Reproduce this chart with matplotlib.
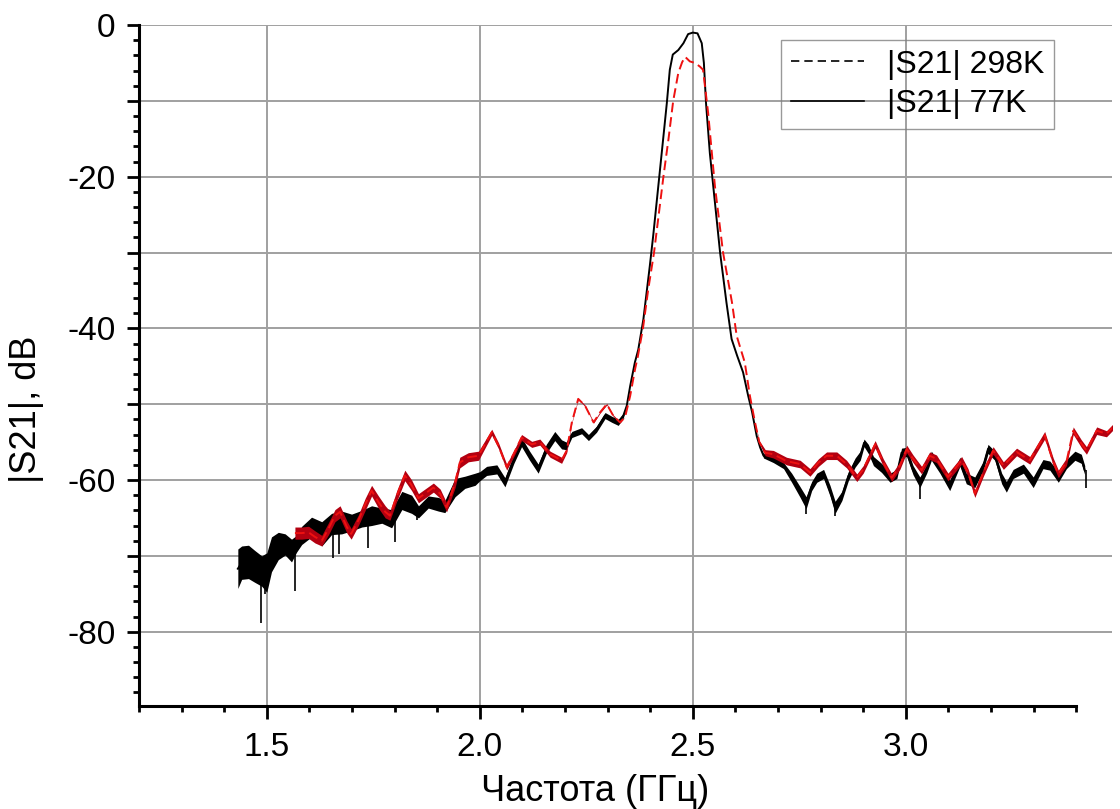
import numpy as np
import matplotlib
matplotlib.use("Agg")
import matplotlib.pyplot as plt
from matplotlib.ticker import FixedLocator, MultipleLocator, FuncFormatter
from matplotlib.lines import Line2D

plt.rcParams['font.family'] = ['Liberation Sans', 'DejaVu Sans']

# --- |S21| at 77 K: frequency (GHz), level (dB), noise half-width (dB) ---
f_77 = [1.432, 1.441, 1.457, 1.472, 1.488, 1.500, 1.511, 1.527, 1.543, 1.558,
        1.570, 1.582, 1.605, 1.629, 1.652, 1.676, 1.699, 1.723, 1.746, 1.770,
        1.793, 1.817, 1.840, 1.856, 1.879, 1.903, 1.918, 1.942, 1.965, 1.989,
        2.000, 2.016, 2.040, 2.059, 2.080, 2.098, 2.117, 2.137, 2.156, 2.176,
        2.192, 2.203, 2.216, 2.239, 2.255, 2.274, 2.294, 2.310, 2.325, 2.337,
        2.345, 2.353, 2.364, 2.372, 2.384, 2.399, 2.407, 2.419, 2.431, 2.439,
        2.446, 2.453, 2.466, 2.478, 2.489, 2.500, 2.511, 2.521, 2.526, 2.531,
        2.540, 2.552, 2.564, 2.579, 2.591, 2.604, 2.618, 2.630, 2.639, 2.650,
        2.658, 2.666, 2.689, 2.713, 2.732, 2.752, 2.766, 2.779, 2.791, 2.807,
        2.822, 2.834, 2.850, 2.865, 2.881, 2.893, 2.902, 2.912, 2.924, 2.943,
        2.963, 2.979, 2.990, 3.002, 3.017, 3.033, 3.049, 3.060, 3.080, 3.103,
        3.127, 3.142, 3.162, 3.182, 3.193, 3.209, 3.225, 3.236, 3.252, 3.276,
        3.299, 3.322, 3.338, 3.358, 3.377, 3.397, 3.412, 3.420]
s21_77 = [-71.7, -70.9, -70.8, -71.4, -72.0, -72.2, -69.8, -68.7, -68.5, -69.3,
          -68.4, -67.3, -66.2, -67.1, -65.8, -65.6, -65.6, -65.1, -64.7, -64.7,
          -65.1, -62.7, -63.2, -64.2, -62.9, -63.2, -63.5, -61.0, -60.3, -59.9,
          -59.5, -58.8, -58.6, -60.3, -57.2, -55.0, -56.8, -58.5, -55.9, -54.2,
          -55.3, -55.5, -54.0, -53.5, -54.4, -53.3, -51.5, -52.0, -52.4, -51.5,
          -50.2, -47.6, -44.5, -42.8, -38.8, -31.8, -27.8, -21.3, -14.7, -10.3,
          -5.9, -3.9, -3.3, -2.4, -1.2, -1.0, -1.1, -2.4, -5.0, -10.3,
          -16.9, -23.5, -30.0, -36.6, -41.4, -43.6, -45.8, -48.9, -51.0, -54.2,
          -55.7, -56.8, -57.3, -58.1, -59.7, -61.6, -63.0, -60.8, -59.7, -59.2,
          -61.4, -63.6, -62.1, -59.5, -57.7, -56.8, -55.1, -55.9, -57.5, -58.4,
          -59.7, -59.2, -56.4, -56.3, -58.7, -60.3, -58.5, -56.8, -58.5, -60.7,
          -57.6, -59.8, -60.3, -58.1, -55.9, -56.8, -59.8, -60.9, -59.2, -58.5,
          -60.3, -57.9, -58.1, -59.6, -57.9, -56.8, -57.2, -58.7]
noise_77 = [2.6, 2.2, 2.2, 2.1, 2.0, 2.6, 2.3, 1.8, 1.4, 1.5,
            1.1, 1.2, 1.3, 1.6, 1.4, 1.5, 1.1, 1.1, 1.3, 1.0,
            1.2, 1.2, 1.2, 0.8, 0.8, 0.9, 0.8, 1.2, 0.8, 0.8,
            0.6, 0.6, 0.6, 0.6, 0.6, 0.6, 0.6, 0.6, 0.6, 0.6,
            0.6, 0.5, 0.4, 0.4, 0.4, 0.4, 0.4, 0.4, 0.4, 0.3,
            0.0, 0.0, 0.0, 0.0, 0.0, 0.0, 0.0, 0.0, 0.0, 0.0,
            0.0, 0.0, 0.0, 0.0, 0.0, 0.0, 0.0, 0.0, 0.0, 0.0,
            0.0, 0.0, 0.0, 0.0, 0.0, 0.0, 0.0, 0.0, 0.0, 0.0,
            0.1, 0.3, 0.4, 0.4, 0.6, 0.7, 0.8, 0.6, 0.6, 0.6,
            0.7, 0.8, 0.6, 0.6, 0.6, 0.6, 0.5, 0.6, 0.6, 0.6,
            0.6, 0.6, 0.6, 0.6, 0.6, 0.7, 0.6, 0.6, 0.6, 0.7,
            0.6, 0.7, 0.7, 0.6, 0.6, 0.6, 0.7, 0.7, 0.6, 0.6,
            0.7, 0.6, 0.6, 0.7, 0.6, 0.6, 0.6, 0.6]
# isolated downward spikes of the 77 K trace
spike_f_77 = [1.486, 1.496, 1.566, 1.656, 1.670, 1.738, 1.801, 1.852,
              2.766, 2.834, 3.033, 3.424]
spike_lo_77 = [-78.9, -75.0, -74.6, -70.3, -69.7, -68.9, -68.2, -65.3,
               -64.5, -64.7, -62.5, -61.1]

# --- |S21| at 298 K ---
f_298 = [1.566, 1.582, 1.598, 1.613, 1.629, 1.645, 1.660, 1.672, 1.688, 1.698,
         1.715, 1.731, 1.746, 1.762, 1.778, 1.789, 1.805, 1.824, 1.840, 1.856,
         1.871, 1.891, 1.907, 1.922, 1.942, 1.953, 1.973, 1.997, 2.028, 2.044,
         2.063, 2.079, 2.098, 2.122, 2.141, 2.165, 2.192, 2.204, 2.216, 2.231,
         2.247, 2.267, 2.282, 2.298, 2.313, 2.329, 2.341, 2.353, 2.364, 2.371,
         2.383, 2.395, 2.409, 2.420, 2.431, 2.443, 2.454, 2.466, 2.475, 2.482,
         2.493, 2.505, 2.517, 2.524, 2.536, 2.552, 2.571, 2.592, 2.603, 2.622,
         2.634, 2.646, 2.656, 2.670, 2.689, 2.720, 2.752, 2.775, 2.795, 2.814,
         2.838, 2.861, 2.885, 2.900, 2.928, 2.947, 2.967, 2.986, 3.002, 3.017,
         3.037, 3.056, 3.072, 3.099, 3.131, 3.146, 3.162, 3.182, 3.205, 3.229,
         3.260, 3.291, 3.326, 3.346, 3.358, 3.377, 3.393, 3.412, 3.424, 3.448,
         3.471, 3.490]
s21_298 = [-67.0, -67.0, -66.9, -67.5, -68.0, -66.4, -64.7, -64.2, -66.2, -67.1,
           -65.3, -63.2, -61.4, -62.9, -64.2, -64.7, -62.1, -59.4, -60.7, -62.4,
           -61.8, -61.0, -61.8, -63.6, -60.3, -57.7, -57.0, -56.8, -53.7, -55.5,
           -58.3, -56.6, -54.4, -55.3, -55.0, -56.6, -57.4, -56.1, -52.4, -49.3,
           -50.2, -52.4, -51.1, -50.0, -51.5, -52.4, -51.7, -48.9, -45.5, -43.7,
           -40.0, -35.0, -30.0, -25.0, -20.0, -15.0, -10.0, -6.3, -4.9, -4.2,
           -4.8, -5.0, -5.5, -5.9, -11.6, -21.3, -30.0, -36.6, -41.0, -44.5,
           -48.9, -52.4, -55.0, -56.4, -56.6, -57.5, -57.9, -59.0, -57.7, -56.8,
           -56.8, -57.9, -59.7, -58.6, -55.3, -57.7, -59.7, -58.1, -55.9, -57.2,
           -58.7, -56.8, -57.2, -59.6, -57.4, -59.0, -61.8, -59.0, -56.1, -58.1,
           -56.3, -57.4, -54.1, -57.6, -59.2, -57.6, -53.5, -55.2, -56.1, -53.5,
           -53.9, -52.8]
noise_298 = [0.8, 0.8, 0.8, 0.8, 0.7, 0.8, 0.8, 0.8, 0.8, 0.7,
             0.7, 0.8, 0.7, 0.8, 0.8, 0.6, 0.7, 0.7, 0.7, 0.6,
             0.6, 0.6, 0.6, 0.6, 0.7, 0.7, 0.6, 0.6, 0.4, 0.4,
             0.4, 0.4, 0.4, 0.4, 0.4, 0.4, 0.4, 0.3, 0.1, 0.1,
             0.1, 0.1, 0.1, 0.1, 0.1, 0.1, 0.0, 0.0, 0.0, 0.0,
             0.0, 0.0, 0.0, 0.0, 0.0, 0.0, 0.0, 0.0, 0.0, 0.0,
             0.0, 0.0, 0.0, 0.0, 0.0, 0.0, 0.0, 0.0, 0.0, 0.0,
             0.0, 0.0, 0.2, 0.4, 0.5, 0.5, 0.5, 0.5, 0.5, 0.5,
             0.5, 0.5, 0.5, 0.5, 0.5, 0.5, 0.5, 0.5, 0.5, 0.5,
             0.5, 0.5, 0.5, 0.5, 0.5, 0.5, 0.5, 0.5, 0.5, 0.5,
             0.5, 0.5, 0.5, 0.5, 0.5, 0.5, 0.5, 0.5, 0.5, 0.5,
             0.4, 0.4]

legend_labels = ["|S21| 298K", "|S21| 77K"]

f77, v77, n77 = np.array(f_77), np.array(s21_77), np.array(noise_77)
f298, v298, n298 = np.array(f_298), np.array(s21_298), np.array(noise_298)

fig = plt.figure(figsize=(11.2, 8.09), dpi=100)
ax = fig.add_axes([139 / 1120, 103 / 809, 973 / 1120, 681 / 809])

# 77 K trace: noise band, spikes and centre line
ax.fill_between(f77, v77 - n77, v77 + n77, color='black', lw=0, zorder=2)
top = np.interp(spike_f_77, f77, v77)
ax.vlines(spike_f_77, spike_lo_77, top, color='black', lw=1.2, zorder=2)
ax.plot(f77, v77, color='black', lw=1.4, zorder=2.1)

# 298 K trace on top
ax.fill_between(f298, v298 - n298, v298 + n298, color='#b30010', lw=0, zorder=3)
ax.plot(f298, v298, color='#ee1111', lw=1.4, linestyle=(0, (5, 2.5)), zorder=3.1)

ax.set_xlim(1.2, 3.484)
ax.set_ylim(-89.8, 0)

for side in ('top', 'right'):
    ax.spines[side].set_visible(False)
ax.spines['bottom'].set_bounds(1.2, 3.4)
for side in ('left', 'bottom'):
    ax.spines[side].set_linewidth(2.2)

ax.xaxis.set_major_locator(FixedLocator([1.5, 2.0, 2.5, 3.0]))
ax.xaxis.set_minor_locator(FixedLocator(np.round(np.arange(1.2, 3.401, 0.1), 2)))
ax.xaxis.set_major_formatter(FuncFormatter(lambda v, p: f"{v:.1f}"))
ax.yaxis.set_major_locator(MultipleLocator(10))
ax.yaxis.set_minor_locator(MultipleLocator(2))
ax.yaxis.set_major_formatter(FuncFormatter(
    lambda v, p: f"{int(round(v))}" if round(v) % 20 == 0 else ""))

ax.tick_params(which='major', direction='out', length=9, width=2, labelsize=24)
ax.tick_params(axis='x', which='major', pad=10)
ax.tick_params(axis='y', which='major', pad=8)
ax.tick_params(which='minor', direction='out', length=4.5, width=2)

ax.grid(which='major', color='#a0a0a0', lw=1.4)

ax.set_xlabel("Частота (ГГц)", fontsize=26)
ax.xaxis.set_label_coords(0.469, -0.100)
ax.set_ylabel("|S21|, dB", fontsize=26)
ax.yaxis.set_label_coords(-0.098, 0.435)

handles = [Line2D([], [], color='black', lw=1.2, linestyle=(0, (5, 3))),
           Line2D([], [], color='black', lw=1.2)]
leg = ax.legend(handles, legend_labels, loc='upper left',
                bbox_to_anchor=(0.66, 0.978), borderaxespad=0,
                fontsize=23, frameon=True, fancybox=False,
                handlelength=2.3, handletextpad=0.7,
                labelspacing=0.3, borderpad=0.3)
frame = leg.get_frame()
frame.set_facecolor('none')
frame.set_edgecolor('#808080')
frame.set_linewidth(1.0)

fig.savefig("out.png", dpi=100, facecolor='white')
